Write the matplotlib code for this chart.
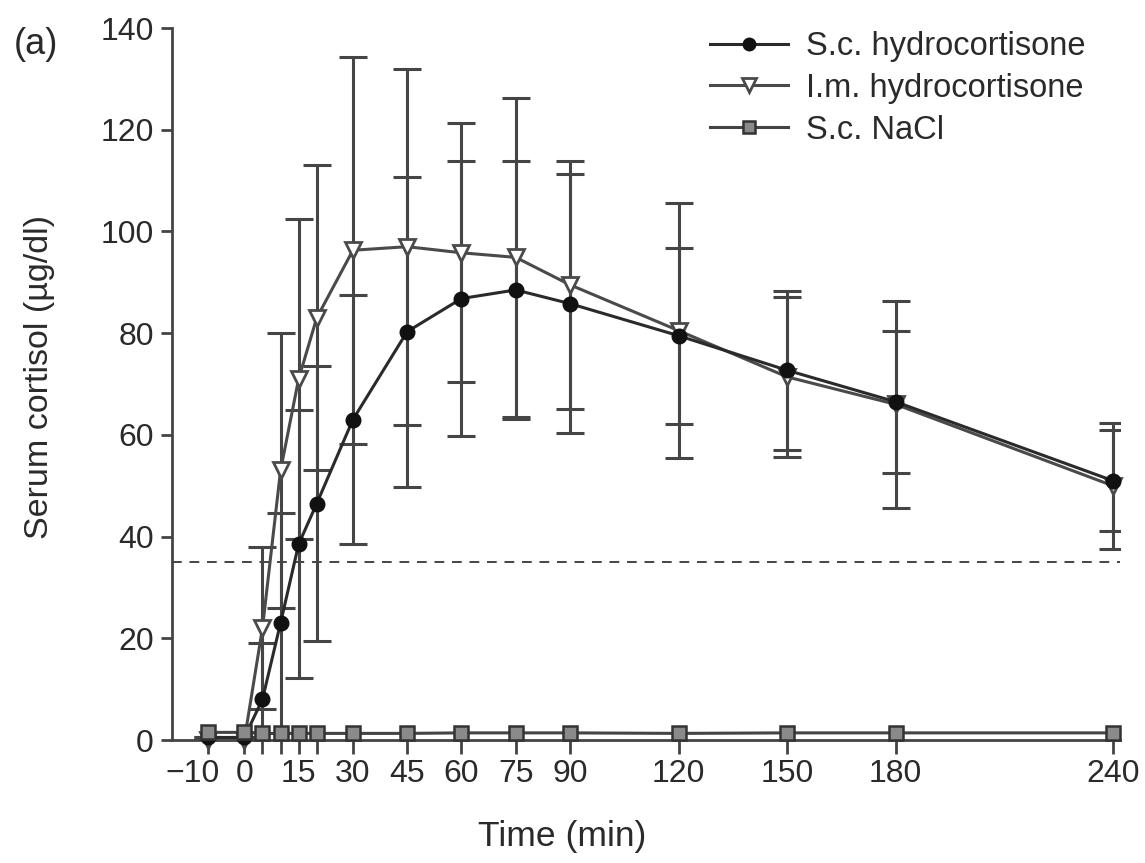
import matplotlib
matplotlib.use("Agg")
import matplotlib.pyplot as plt
from matplotlib.lines import Line2D
from matplotlib.transforms import ScaledTranslation

# ---- data ----
time_min = [-10, 0, 5, 10, 15, 20, 30, 45, 60, 75, 90, 120, 150, 180, 240]
sc_hydro = [0.5, 0.5, 8, 23, 38.5, 46.5, 63, 80.3, 86.8, 88.5, 85.8, 79.5, 72.7, 66.5, 51]
sc_hydro_sd = [0, 0, 11, 21.7, 26.4, 27, 24.5, 30.5, 27, 25.4, 25.5, 17.3, 15.6, 14, 10]
im_hydro = [0, 0, 22, 53, 71, 83, 96.3, 97, 95.8, 94.9, 89.5, 80.5, 71.4, 66, 50]
im_hydro_sd = [0, 0, 16, 27, 31.5, 30, 38, 35, 25.5, 31.3, 24.4, 25, 15.8, 20.3, 12.4]
sc_nacl = [1.5, 1.5, 1.3, 1.3, 1.3, 1.3, 1.3, 1.3, 1.4, 1.4, 1.4, 1.3, 1.4, 1.4, 1.4]
threshold = 35
x_tick_labels = ["\u221210", "0", "", "", "15", "", "30", "45", "60", "75", "90",
                 "120", "150", "180", "240"]
y_ticks = [0, 20, 40, 60, 80, 100, 120, 140]

plt.rcParams['font.family'] = ['Liberation Sans', 'DejaVu Sans']
TXT = '#2a2a2a'

fig = plt.figure(figsize=(11.45, 8.63), dpi=100)
W, H = 1145, 863
ax = fig.add_axes([172 / W, 1 - 740 / H, 948 / W, 712 / H])

# dashed threshold line
ax.axhline(threshold, color='#444444', lw=1.4, ls=(0, (5, 4)), zorder=1)

err_kw = dict(ecolor='#454545', elinewidth=2.2, capsize=10, capthick=2.2)

# I.m. hydrocortisone
ax.errorbar(time_min, im_hydro, yerr=im_hydro_sd, fmt='none', zorder=2, **err_kw)
ax.plot(time_min, im_hydro, color='#4a4a4a', lw=2.2, marker='v', ms=11,
        mfc='white', mec='#4a4a4a', mew=2.0, zorder=4, clip_on=False)

# S.c. hydrocortisone
ax.errorbar(time_min, sc_hydro, yerr=sc_hydro_sd, fmt='none', zorder=2, **err_kw)
ax.plot(time_min, sc_hydro, color='#2a2a2a', lw=2.2, marker='o', ms=10.5,
        mfc='#111111', mec='#111111', zorder=5, clip_on=False)

# S.c. NaCl
ax.plot(time_min, sc_nacl, color='#444444', lw=2.2, marker='s', ms=10,
        mfc='#8a8a8a', mec='#333333', mew=1.8, zorder=6, clip_on=False)

ax.set_xlim(-20, 242)
ax.set_ylim(0, 140)
ax.set_xticks(time_min)
ax.set_xticklabels(x_tick_labels)
ax.set_yticks(y_ticks)
for s in ('top', 'right'):
    ax.spines[s].set_visible(False)
for s in ('left', 'bottom'):
    ax.spines[s].set_color('#444444')
    ax.spines[s].set_linewidth(2.0)
ax.tick_params(axis='x', direction='out', length=10, width=2.0, color='#444444',
               labelsize=23, labelcolor=TXT, pad=4)
ax.tick_params(axis='y', direction='out', length=8, width=2.0, color='#444444',
               labelsize=23, labelcolor=TXT, pad=5)

# shift the "-10" label left so the digits sit under the tick (as in the reference)
lab0 = ax.get_xticklabels()[0]
lab0.set_transform(lab0.get_transform() + ScaledTranslation(-16 / 100, 0, fig.dpi_scale_trans))

fig.text(40 / W, 1 - 377 / H, "Serum cortisol (\u00b5g/dl)", rotation=90,
         ha='center', va='center', fontsize=24.5, color=TXT)
fig.text(562 / W, 1 - 836 / H, "Time (min)", ha='center', va='center',
         fontsize=25.5, color=TXT)
fig.text(14 / W, 1 - 45 / H, "(a)", ha='left', va='center', fontsize=26, color=TXT)

handles = [
    Line2D([], [], color='#2a2a2a', lw=2.2, marker='o', ms=9, mfc='#111111', mec='#111111'),
    Line2D([], [], color='#4a4a4a', lw=2.2, marker='v', ms=10, mfc='white', mec='#4a4a4a', mew=2.0),
    Line2D([], [], color='#444444', lw=2.2, marker='s', ms=9, mfc='#8a8a8a', mec='#333333', mew=1.8),
]
labels = ["S.c. hydrocortisone", "I.m. hydrocortisone", "S.c. NaCl"]
leg = fig.legend(handles, labels, loc='upper left', bbox_to_anchor=(710 / W, 1 - 31 / H),
                 frameon=False, fontsize=23.5, handlelength=2.4, handletextpad=0.55,
                 labelspacing=0.33, borderpad=0, borderaxespad=0)
for t in leg.get_texts():
    t.set_color(TXT)

fig.savefig("out.png", dpi=100)
